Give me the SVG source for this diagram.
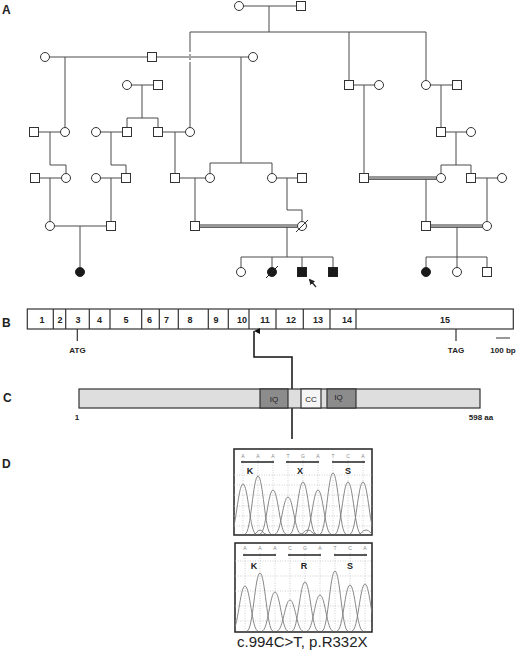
<svg xmlns="http://www.w3.org/2000/svg" width="520" height="656" viewBox="0 0 520 656">
<style>
text{font-family:"Liberation Sans",Arial,sans-serif}
.lbl{font-size:12px;font-weight:bold;fill:#222}
.ln{stroke:#4a4a4a;stroke-width:1;fill:none}
.dbl{stroke:#333;stroke-width:1.2;fill:none}
.o{fill:#fff;stroke:#333;stroke-width:1}
.k{fill:#1a1a1a;stroke:#222;stroke-width:1}
.ex{fill:#fff;stroke:#333;stroke-width:1.2}
.en{font-size:9px;font-weight:bold;fill:#222;text-anchor:middle}
.sm{font-size:8px;font-weight:bold;fill:#222;text-anchor:middle}
.pb{fill:#dedede;stroke:#333;stroke-width:1.2}
.iq{fill:#8c8c8c;stroke:#333;stroke-width:1.2}
.cc{fill:#f5f5f5;stroke:#333;stroke-width:1.2}
.dt{stroke:#bbb;stroke-width:0.7;stroke-dasharray:1 1.5;fill:none}
.tr{stroke:#7a7a7a;stroke-width:0.9;fill:none}
.bx{fill:#fff;stroke:#222;stroke-width:1.5}
.bs{font-size:5px;fill:#888;text-anchor:middle}
.aa{font-size:9px;font-weight:bold;fill:#222;text-anchor:middle}
.bar{stroke:#222;stroke-width:1.5}
</style>
<defs>
<marker id="ah" viewBox="0 0 6 6" refX="3" refY="0" markerWidth="6" markerHeight="6" orient="auto-start-reverse" markerUnits="userSpaceOnUse">
<path d="M0 6 L3 0 L6 6 Z" fill="#111"/>
</marker>
<marker id="ah2" viewBox="0 0 6 6" refX="5" refY="3" markerWidth="6" markerHeight="6" orient="auto" markerUnits="userSpaceOnUse">
<path d="M0 0 L6 3 L0 6 Z" fill="#222"/>
</marker>
<clipPath id="c1"><rect x="234" y="449" width="138" height="86"/></clipPath>
<clipPath id="c2"><rect x="235" y="543" width="137" height="89"/></clipPath>
</defs>
<rect width="520" height="656" fill="#fff"/>

<!-- panel labels -->
<text class="lbl" x="2" y="14">A</text>
<text class="lbl" x="2" y="327">B</text>
<text class="lbl" x="3" y="402">C</text>
<text class="lbl" x="2" y="468">D</text>

<!-- pedigree connectors -->
<g id="pedigree-lines" class="ln">
<path d="M243.5 6H296.5M269 6V32M190 32H426M190 32V50M190 64V127.5M349 32V80.5M426 32V80.5"/>
<path d="M190 50V64" stroke-dasharray="2 2"/>
<path d="M49.5 57H147.5M156.5 57H248.5M65 57V127.5M241 57V163"/>
<path d="M131.5 85H153.5M142 85V118M127 118H158M127 118V127.5M158 118V127.5"/>
<path d="M353.5 85H374.5M364 85V173.5M430.5 85H452.5M441 85V127.5"/>
<path d="M38.5 132H60.5M50 132V165H66V173.5M100.5 132H122.5M111 132V165H126V173.5M162.5 132H185.5M175 132V173.5"/>
<path d="M445.5 132H466.5M456 132V165M441 165H471M441 165V173.5M471 165V173.5"/>
<path d="M39.5 178H61.5M50 178V221.5M100.5 178H121.5M111 178V221.5M179.5 178H205.5M195 178V221.5"/>
<path d="M210 163H272M210 163V173.5M272 163V173.5M276.5 178H297.5M287 178V210H302V221.5"/>
<path class="dbl" d="M368.5 177H436.5M368.5 179.2H436.5"/>
<path d="M426 179V221.5M475.5 178H497.5M487 178V221.5"/>
<path d="M54.5 226H106.5M80 226V267.5"/>
<path class="dbl" d="M199.5 225H297.5M199.5 227.2H297.5"/>
<path d="M287 227V257M241 257H333M241 257V267.5M272 257V267.5M302 257V267.5M333 257V267.5"/>
<path class="dbl" d="M430.5 225H482.5M430.5 227.2H482.5"/>
<path d="M457 227V257M426 257H487M426 257V267.5M457 257V267.5M487 257V267.5"/>
<path d="M316 287L309.5 279.5" stroke="#222" stroke-width="1.2" marker-end="url(#ah2)"/>
</g>

<!-- pedigree individuals -->
<g id="I-1"><circle class="o" cx="239" cy="6" r="4.5"/></g>
<g id="I-2"><rect class="o" x="296.5" y="1.5" width="9" height="9"/></g>
<g id="II-1"><circle class="o" cx="45" cy="57" r="4.5"/></g>
<g id="II-2"><rect class="o" x="147.5" y="52.5" width="9" height="9"/></g>
<g id="II-3"><circle class="o" cx="253" cy="57" r="4.5"/></g>
<g id="II-4"><circle class="o" cx="127" cy="85" r="4.5"/></g>
<g id="II-5"><rect class="o" x="153.5" y="80.5" width="9" height="9"/></g>
<g id="II-6"><rect class="o" x="344.5" y="80.5" width="9" height="9"/></g>
<g id="II-7"><circle class="o" cx="379" cy="85" r="4.5"/></g>
<g id="II-8"><circle class="o" cx="426" cy="85" r="4.5"/></g>
<g id="II-9"><rect class="o" x="452.5" y="80.5" width="9" height="9"/></g>
<g id="III-1"><rect class="o" x="29.5" y="127.5" width="9" height="9"/></g>
<g id="III-2"><circle class="o" cx="65" cy="132" r="4.5"/></g>
<g id="III-3"><circle class="o" cx="96" cy="132" r="4.5"/></g>
<g id="III-4"><rect class="o" x="122.5" y="127.5" width="9" height="9"/></g>
<g id="III-5"><rect class="o" x="153.5" y="127.5" width="9" height="9"/></g>
<g id="III-6"><circle class="o" cx="190" cy="132" r="4.5"/></g>
<g id="III-7"><rect class="o" x="436.5" y="127.5" width="9" height="9"/></g>
<g id="III-8"><circle class="o" cx="471" cy="132" r="4.5"/></g>
<g id="IV-1"><rect class="o" x="30.5" y="173.5" width="9" height="9"/></g>
<g id="IV-2"><circle class="o" cx="66" cy="178" r="4.5"/></g>
<g id="IV-3"><circle class="o" cx="96" cy="178" r="4.5"/></g>
<g id="IV-4"><rect class="o" x="121.5" y="173.5" width="9" height="9"/></g>
<g id="IV-5"><rect class="o" x="170.5" y="173.5" width="9" height="9"/></g>
<g id="IV-6"><circle class="o" cx="210" cy="178" r="4.5"/></g>
<g id="IV-7"><circle class="o" cx="272" cy="178" r="4.5"/></g>
<g id="IV-8"><rect class="o" x="297.5" y="173.5" width="9" height="9"/></g>
<g id="IV-9"><rect class="o" x="359.5" y="173.5" width="9" height="9"/></g>
<g id="IV-10"><circle class="o" cx="441" cy="178" r="4.5"/></g>
<g id="IV-11"><rect class="o" x="466.5" y="173.5" width="9" height="9"/></g>
<g id="IV-12"><circle class="o" cx="502" cy="178" r="4.5"/></g>
<g id="V-1"><circle class="o" cx="50" cy="226" r="4.5"/></g>
<g id="V-2"><rect class="o" x="106.5" y="221.5" width="9" height="9"/></g>
<g id="V-3"><rect class="o" x="190.5" y="221.5" width="9" height="9"/></g>
<g id="V-4"><circle class="o" cx="302" cy="226" r="4.5"/><path d="M296 232L308 220" stroke="#333" stroke-width="1"/></g>
<g id="V-5"><rect class="o" x="421.5" y="221.5" width="9" height="9"/></g>
<g id="V-6"><circle class="o" cx="487" cy="226" r="4.5"/></g>
<g id="VI-1"><circle class="k" cx="80" cy="272" r="4.5"/></g>
<g id="VI-2"><circle class="o" cx="241" cy="272" r="4.5"/></g>
<g id="VI-3"><circle class="k" cx="272" cy="272" r="4.5"/><path d="M266 278L278 266" stroke="#222" stroke-width="1"/></g>
<g id="VI-4"><rect class="k" x="297.5" y="267.5" width="9" height="9"/></g>
<g id="VI-5"><rect class="k" x="328.5" y="267.5" width="9" height="9"/></g>
<g id="VI-6"><circle class="k" cx="426" cy="272" r="4.5"/></g>
<g id="VI-7"><circle class="o" cx="457" cy="272" r="4.5"/></g>
<g id="VI-8"><rect class="o" x="482.5" y="267.5" width="9" height="9"/></g>

<!-- B: gene structure -->
<g id="gene">
<rect class="ex" x="27.3" y="309" width="486" height="20"/>
<path d="M53.3 309V329M65.7 309V329M89.3 309V329M110 309V329M141.7 309V329M159.3 309V329M178.3 309V329M208.3 309V329M228.3 309V329M249 309V329M276 309V329M303.3 309V329M330 309V329M356 309V329" stroke="#333" stroke-width="1.2"/>
<text class="en" x="42" y="322.5">1</text>
<text class="en" x="60" y="322.5">2</text>
<text class="en" x="78" y="322.5">3</text>
<text class="en" x="99.5" y="322.5">4</text>
<text class="en" x="126" y="322.5">5</text>
<text class="en" x="149.5" y="322.5">6</text>
<text class="en" x="166.5" y="322.5">7</text>
<text class="en" x="190" y="322.5">8</text>
<text class="en" x="216" y="322.5">9</text>
<text class="en" x="242" y="322.5">10</text>
<text class="en" x="265" y="322.5">11</text>
<text class="en" x="291" y="322.5">12</text>
<text class="en" x="318" y="322.5">13</text>
<text class="en" x="347" y="322.5">14</text>
<text class="en" x="445" y="322.5">15</text>
<path d="M77.3 329V341M456 329V341M496 338H510" stroke="#333" stroke-width="1.2"/>
<text class="sm" x="77.5" y="353">ATG</text>
<text class="sm" x="456" y="353">TAG</text>
<text class="sm" x="503" y="353">100 bp</text>
</g>

<!-- B-C connector -->
<g id="connectors">
<path d="M292 389V357H254V331" fill="none" stroke="#111" stroke-width="1.5" marker-end="url(#ah)"/>
<path d="M292 408V439" fill="none" stroke="#111" stroke-width="1.5"/>
</g>

<!-- C: protein -->
<g id="protein">
<rect class="pb" x="79" y="389" width="401" height="19"/>
<rect class="iq" x="260" y="389" width="28" height="19"/>
<rect class="cc" x="301" y="389" width="20" height="19"/>
<rect class="iq" x="327" y="389" width="29" height="19"/>
<text x="274" y="401.5" font-size="8" fill="#222" text-anchor="middle">IQ</text>
<text x="311" y="401.5" font-size="8" fill="#222" text-anchor="middle">CC</text>
<text x="338.5" y="400" font-size="8" fill="#222" text-anchor="middle">IQ</text>
<text class="sm" x="77" y="420">1</text>
<text class="sm" x="481" y="420">598 aa</text>
</g>

<!-- D: chromatograms -->
<g id="chrom-mutant">
<rect class="bx" x="234" y="449" width="138" height="86"/>
<g clip-path="url(#c1)">
<path class="dt" d="M243 460V534M258 460V534M273 460V534M288 460V534M303 460V534M318 460V534M333 460V534M348 460V534M363 460V534M234 475H372M234 485H372M234 495H372M234 506H372M234 516H372M234 526H372"/>
<path class="tr" d="M230 534C236 534 238 484 243 484C248 484 250 534 256 534"/>
<path class="tr" d="M245 534C251 534 253 476 258 476C263 476 265 534 271 534"/>
<path class="tr" d="M260 534C266 534 268 490 273 490C278 490 280 534 286 534"/>
<path class="tr" d="M275 534C281 534 283 497 288 497C293 497 295 534 301 534"/>
<path class="tr" d="M290 534C296 534 298 482 303 482C308 482 310 534 316 534"/>
<path class="tr" d="M305 534C311 534 313 490 318 490C323 490 325 534 331 534"/>
<path class="tr" d="M320 534C326 534 328 473 333 473C338 473 340 534 346 534"/>
<path class="tr" d="M335 534C341 534 343 482 348 482C353 482 355 534 361 534"/>
<path class="tr" d="M350 534C356 534 358 482 363 482C368 482 370 534 376 534"/>
<path class="tr" d="M254 534C257 534 257 530 260 530C263 530 263 534 266 534M301 534C304 534 304 530 308 530C312 530 312 534 315 534M359 534C362 534 362 530 366 530C370 530 370 534 373 534"/>
</g>
<text class="bs" x="243" y="458">A</text><text class="bs" x="258" y="458">A</text><text class="bs" x="273" y="458">A</text>
<text class="bs" x="288" y="458">T</text><text class="bs" x="303" y="458">G</text><text class="bs" x="318" y="458">A</text>
<text class="bs" x="333" y="458">T</text><text class="bs" x="348" y="458">C</text><text class="bs" x="363" y="458">A</text>
<path class="bar" d="M241 462H274M286 462H319M332 462H365"/>
<text class="aa" x="250" y="474">K</text>
<text class="aa" x="300" y="474">X</text>
<text class="aa" x="348" y="474">S</text>
</g>

<g id="chrom-wildtype">
<rect class="bx" x="235" y="543" width="137" height="89"/>
<g clip-path="url(#c2)">
<path class="dt" d="M245 553V631M260 553V631M275 553V631M290 553V631M305 553V631M320 553V631M335 553V631M350 553V631M365 553V631M235 561H372M235 576H372M235 591H372M235 606H372M235 621H372"/>
<path class="tr" d="M232 631C238 631 240 586 245 586C250 586 252 631 258 631"/>
<path class="tr" d="M247 631C253 631 255 573 260 573C265 573 267 631 273 631"/>
<path class="tr" d="M262 631C268 631 270 592 275 592C280 592 282 631 288 631"/>
<path class="tr" d="M277 631C283 631 285 600 290 600C295 600 297 631 303 631"/>
<path class="tr" d="M292 631C298 631 300 582 305 582C310 582 312 631 318 631"/>
<path class="tr" d="M307 631C313 631 315 595 320 595C325 595 327 631 333 631"/>
<path class="tr" d="M322 631C328 631 330 571 335 571C340 571 342 631 348 631"/>
<path class="tr" d="M337 631C343 631 345 585 350 585C355 585 357 631 363 631"/>
<path class="tr" d="M352 631C358 631 360 584 365 584C370 584 372 631 378 631"/>
</g>
<text class="bs" x="245" y="550">A</text><text class="bs" x="260" y="550">A</text><text class="bs" x="275" y="550">A</text>
<text class="bs" x="290" y="550">C</text><text class="bs" x="305" y="550">G</text><text class="bs" x="320" y="550">A</text>
<text class="bs" x="335" y="550">T</text><text class="bs" x="350" y="550">C</text><text class="bs" x="365" y="550">A</text>
<path class="bar" d="M243 555H276M288 555H321M334 555H367"/>
<text class="aa" x="254" y="569">K</text>
<text class="aa" x="304" y="569">R</text>
<text class="aa" x="350" y="569">S</text>
</g>

<text x="237" y="647" font-size="15" fill="#222">c.994C&gt;T, p.R332X</text>
</svg>
